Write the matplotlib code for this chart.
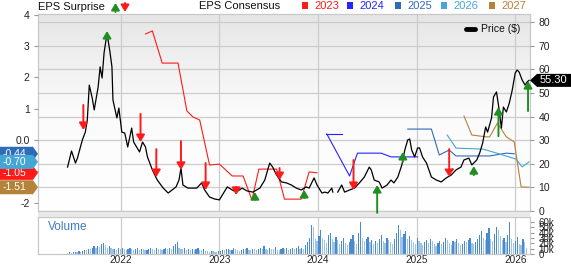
import numpy as np
import matplotlib
matplotlib.use("Agg")
import matplotlib.pyplot as plt
from matplotlib.patches import Polygon, Rectangle, FancyArrowPatch, ArrowStyle
from matplotlib.colors import LinearSegmentedColormap

plt.rcParams['font.family'] = ['Liberation Sans', 'DejaVu Sans']

# ---------------- data ----------------
price_t = [2021.46, 2021.50, 2021.54, 2021.56, 2021.61, 2021.64, 2021.66, 2021.68, 2021.71, 2021.73,
           2021.77, 2021.79, 2021.81, 2021.83, 2021.86, 2021.89, 2021.91, 2021.92, 2021.96, 2021.98,
           2022.01, 2022.04, 2022.07, 2022.11, 2022.13, 2022.19, 2022.22, 2022.25, 2022.27, 2022.32,
           2022.37, 2022.43, 2022.48, 2022.52, 2022.56, 2022.59, 2022.61, 2022.63, 2022.68, 2022.72,
           2022.77, 2022.82, 2022.85, 2022.90, 2022.95, 2023.00, 2023.03, 2023.08, 2023.13, 2023.17,
           2023.23, 2023.28, 2023.34, 2023.41, 2023.46, 2023.51, 2023.54, 2023.58, 2023.63, 2023.68,
           2023.73, 2023.78, 2023.83, 2023.88, 2023.91, 2023.96, 2023.99, 2024.04, 2024.07, 2024.10,
           2024.14, 2024.15, 2024.17, 2024.20, 2024.24, 2024.27, 2024.32, 2024.37, 2024.42, 2024.47,
           2024.52, 2024.54, 2024.57, 2024.62, 2024.65, 2024.70, 2024.74, 2024.77, 2024.81, 2024.85,
           2024.88, 2024.91, 2024.93, 2024.95, 2024.98, 2025.01, 2025.03, 2025.06, 2025.10, 2025.15,
           2025.20, 2025.25, 2025.30, 2025.35, 2025.40, 2025.45, 2025.48, 2025.53, 2025.56, 2025.61,
           2025.64, 2025.67, 2025.70, 2025.72, 2025.76, 2025.78, 2025.81, 2025.83, 2025.86, 2025.88,
           2025.91, 2025.94, 2025.97, 2026.00, 2026.02, 2026.04, 2026.07, 2026.10, 2026.12, 2026.14]
price_v = [18.6, 25.4, 20.3, 22.4, 30.1, 33.4, 38.5, 53.3, 47.8, 42.8,
           52.5, 61.0, 56.3, 66.9, 75.3, 67.3, 61.0, 47.0, 39.4, 43.6,
           33.4, 33.0, 27.1, 35.1, 29.2, 25.0, 29.2, 27.1, 22.9, 17.4,
           13.1, 9.7, 7.6, 8.9, 10.2, 13.1, 18.2, 11.0, 9.7, 9.7,
           9.7, 11.9, 8.9, 5.9, 5.1, 4.7, 6.8, 10.2, 8.9, 8.0,
           9.7, 8.5, 8.0, 9.7, 13.1, 20.3, 18.6, 15.2, 12.3, 11.9,
           11.0, 9.7, 8.9, 10.2, 9.7, 14.0, 11.0, 7.6, 8.0, 7.6,
           9.7, 8.0, np.nan, 8.0, 11.0, 8.0, 8.9, 9.7, 11.9, 14.4,
           18.6, 17.4, 13.1, 12.3, 9.7, 11.0, 13.1, 11.9, 14.4, 19.5,
           25.8, 30.1, 30.5, 25.8, 22.9, 26.7, 26.7, 22.9, 20.3, 14.4,
           13.1, 12.3, 14.0, 15.2, 17.4, 18.6, 21.6, 22.4, 19.5, 21.6,
           24.6, 28.8, 35.6, 33.4, 39.4, 48.3, 50.4, 44.9, 35.1, 44.0,
           41.9, 45.7, 51.2, 58.4, 59.7, 58.8, 55.5, 53.3, 54.6, 55.3]
last_price = 55.30

# EPS surprise arrows: date, tail (price), tip (price), kind
surp_t    = [2021.62, 2021.86, 2022.20, 2022.36, 2022.61, 2022.86, 2023.17, 2023.36, 2023.61,
             2023.86, 2024.36, 2024.60, 2024.86, 2025.33, 2025.58, 2025.83, 2026.13]
surp_tail = [44.9, 72.5, 41.1, 26.2, 29.6, 20.3, 10.2, 4.7, 18.2,
             5.5, 21.6, -0.8, 20.7, 26.2, 15.2, 31.7, 42.3]
surp_tip  = [34.3, 76.2, 29.2, 14.4, 17.4, 8.9, 6.8, 8.0, 13.1,
             8.9, 8.9, 11.0, 25.0, 14.4, 19.0, 44.0, 55.0]
surp_kind = ['miss', 'beat', 'miss', 'miss', 'miss', 'miss', 'miss', 'beat', 'miss',
             'beat', 'miss', 'beat', 'beat', 'mixed', 'beat', 'beat', 'beat']

# EPS consensus lines (EPS axis)
c2023_t = [2022.25, 2022.32, 2022.42, 2022.58, 2022.67, 2022.73, 2022.80, 2022.90, 2023.00, 2023.13,
           2023.24, 2023.33, 2023.40, 2023.58, 2023.66, 2023.83, 2023.91, 2023.99]
c2023_v = [3.39, 3.49, 2.46, 2.46, 0.93, 0.74, 0.64, -0.80, -0.77, -1.15,
           -1.15, -1.92, -0.93, -0.93, -1.89, -1.89, -1.02, -1.05]
c2024a_t = [2024.08, 2024.24]
c2024a_v = [0.19, 0.19]
c2024_t = [2024.09, 2024.32, 2024.40, 2024.64, 2024.74, 2025.01]
c2024_v = [0.19, -1.15, -0.42, -0.42, -0.54, -0.54]
c2025_t = [2024.91, 2025.15, 2025.23, 2025.33, 2025.40, 2025.74, 2025.91, 2025.99]
c2025_v = [0.35, 0.35, -0.48, -0.32, -0.51, -0.51, -0.42, -0.44]
c2026_t = [2025.31, 2025.40, 2025.67, 2025.74, 2026.01, 2026.07, 2026.14]
c2026_v = [0.16, -0.26, -0.29, -0.35, -0.61, -0.86, -0.70]
c2027_t = [2025.48, 2025.56, 2025.71, 2025.74, 2025.82, 2025.91, 2025.99, 2026.06, 2026.14]
c2027_v = [0.77, 0.16, 0.10, 0.10, 0.54, 0.10, -0.06, -1.50, -1.51]

years = ['2023', '2024', '2025', '2026', '2027']
year_colors = ['#ff1a1a', '#2424ff', '#2f6cb8', '#45a5d5', '#b5823a']
badge_vals = [-0.44, -1.05, -1.51, -0.70]
badge_cols = ['#2f6cb8', '#ff1a1a', '#b5823a', '#45a5d5']

# weekly volume (thousands)
vol_start = 2021.46
volume = [2, 3, 2, 3, 4, 3, 5, 4, 6, 8, 7, 10, 9, 12, 14, 11, 15, 13, 18, 20,
          16, 12, 14, 11, 9, 10, 8, 12, 9, 11, 10, 8, 9, 12, 10, 7, 9, 11, 8, 10,
          9, 7, 8, 10, 12, 9, 8, 11, 10, 9, 8, 10, 12, 9, 11, 10, 14, 18, 23, 12,
          10, 9, 11, 8, 9, 7, 10, 8, 9, 12, 8, 7, 9, 6, 5, 4, 6, 5, 4, 3,
          5, 6, 8, 7, 9, 10, 7, 8, 11, 9, 7, 6, 8, 10, 9, 12, 8, 7, 10, 9,
          8, 9, 12, 10, 14, 9, 8, 11, 10, 9, 13, 8, 7, 10, 12, 9, 11, 8, 10, 12,
          9, 11, 14, 10, 12, 9, 16, 22, 30, 55, 50, 28, 24, 33, 45, 30, 26, 20, 35, 40,
          28, 22, 32, 26, 18, 24, 30, 20, 16, 22, 28, 35, 25, 18, 40, 60, 30, 24, 28, 32,
          22, 26, 18, 24, 20, 28, 35, 24, 20, 30, 26, 22, 18, 28, 40, 55, 45, 32, 38, 42,
          28, 34, 26, 22, 18, 30, 24, 20, 16, 22, 26, 20, 28, 24, 18, 14, 20, 24, 18, 22,
          30, 26, 20, 16, 24, 22, 28, 20, 16, 18, 24, 22, 26, 30, 20, 18, 22, 28, 36, 42,
          30, 26, 40, 48, 28, 24, 38, 50, 44, 34, 26, 30, 22, 36, 60, 28, 20, 24, 32, 18,
          16, 28, 22, 12]

year_ticks = [2022, 2023, 2024, 2025, 2026]
price_ticks = [0, 10, 20, 30, 40, 50, 60, 70, 80]
eps_ticks = [4, 3, 2, 1, 0, -1, -2]
eps_labels = ['4', '3', '2', '1', '0.0', '-1', '-2']
vol_ticks = [0, 10, 20, 30, 40, 50, 60]

# ---------------- layout ----------------
W, H = 571, 264
fig = plt.figure(figsize=(W / 100, H / 100), dpi=100)
XL = (2021.16, 2026.15)
PL = (0, 83.4)
EL = (-2.27, 4.03)
pos = [38 / W, 1 - 211 / H, 492 / W, 197 / H]
GRID = '#cccccc'
ARW = ArrowStyle('-|>', head_length=0.75, head_width=0.45)

ax_bg = fig.add_axes(pos, zorder=0)
grad = np.linspace(0, 1, 256).reshape(-1, 1)
cmap = LinearSegmentedColormap.from_list('g', ['#ffffff', '#fbfbfb', '#e6e6e6'])
ax_bg.imshow(grad, extent=[XL[0], XL[1], PL[0], PL[1]], origin='lower', aspect='auto', cmap=cmap, zorder=0)
ax_bg.set_xlim(XL); ax_bg.set_ylim(PL)
for p in price_ticks:
    ax_bg.axhline(p, color=GRID, lw=0.9, zorder=1)
for yv in year_ticks:
    ax_bg.axvline(yv, color=GRID, lw=0.9, zorder=1)
ax_bg.set_xticks([]); ax_bg.set_yticks([])
for s in ax_bg.spines.values():
    s.set_color('#c8c8c8'); s.set_linewidth(0.9)

ax_e = fig.add_axes(pos, zorder=1)
ax_e.patch.set_visible(False)
ax_e.set_xlim(XL); ax_e.set_ylim(EL)
for s in ax_e.spines.values():
    s.set_visible(False)
ax_e.set_xticks([])
ax_e.set_yticks(eps_ticks)
ax_e.set_yticklabels(eps_labels)
ax_e.tick_params(axis='y', length=3, width=0.8, color='#999999', labelsize=7.5, pad=3, labelcolor='#222222')

series = [(c2023_t, c2023_v, 0), (c2024a_t, c2024a_v, 1), (c2024_t, c2024_v, 1),
          (c2025_t, c2025_v, 2), (c2026_t, c2026_v, 3), (c2027_t, c2027_v, 4)]
for t, v, ci in series:
    ax_e.plot(t, v, color=year_colors[ci], lw=0.8, zorder=2)

# badges on left
ytr = ax_e.get_yaxis_transform()
bx0, bx1, bxp = -38 / 492, -5 / 492, 0 / 492
hh = 7 / 31.25
for val, col in zip(badge_vals, badge_cols):
    poly = Polygon([[bx0, val - hh], [bx1, val - hh], [bxp, val], [bx1, val + hh], [bx0, val + hh]],
                   closed=True, facecolor=col, edgecolor='none', transform=ytr, clip_on=False, zorder=5)
    ax_e.add_patch(poly)
    ax_e.text(-35 / 492, val, f'{val:.2f}', transform=ytr, color='white', fontsize=7.5,
              va='center', ha='left', clip_on=False, zorder=5)

ax_p = fig.add_axes(pos, zorder=2)
ax_p.patch.set_visible(False)
ax_p.set_xlim(XL); ax_p.set_ylim(PL)
for s in ax_p.spines.values():
    s.set_visible(False)
ax_p.set_xticks([])
ax_p.yaxis.tick_right()
ax_p.set_yticks(price_ticks)
ax_p.tick_params(axis='y', length=3, width=0.8, color='#999999', labelsize=7.5, pad=3, labelcolor='#222222')
ax_p.plot(price_t, price_v, color='black', lw=0.9, zorder=3)

for t, a, b, k in zip(surp_t, surp_tail, surp_tip, surp_kind):
    col = '#1f8f1f' if k == 'beat' else '#ff1a1a'
    ls = (0, (1.2, 0.8)) if k == 'mixed' else '-'
    arr = FancyArrowPatch((t, a), (t, b), arrowstyle=ARW,
                          mutation_scale=5.5, color=col, lw=1.4, linestyle=ls, shrinkA=0, shrinkB=0,
                          zorder=4, clip_on=False)
    ax_p.add_patch(arr)

# price label
xtr = ax_p.get_yaxis_transform()
ph = 6.5 / 2.3625
lab = Polygon([[1.0, last_price], [1 + 7 / 492, last_price + ph], [1 + 41 / 492, last_price + ph],
               [1 + 41 / 492, last_price - ph], [1 + 7 / 492, last_price - ph]], closed=True,
              facecolor='black', edgecolor='none', transform=xtr, clip_on=False, zorder=6)
ax_p.add_patch(lab)
ax_p.text(1 + 23 / 492, last_price, f'{last_price:.2f}', transform=xtr, color='white', fontsize=8,
          ha='center', va='center', zorder=7, clip_on=False)

# price legend
ax_p.plot([0.870, 0.888], [0.922, 0.922], transform=ax_p.transAxes, color='black', lw=3.5,
          solid_capstyle='round', zorder=5)
ax_p.text(0.900, 0.922, 'Price ($)', transform=ax_p.transAxes, fontsize=7.5, va='center', ha='left', color='#111111')

# separator band
fig.add_artist(Rectangle((38 / W, 1 - 217 / H), 492 / W, 5 / H, transform=fig.transFigure,
                         facecolor='#e8e8e8', edgecolor='none'))

# volume
ax_v = fig.add_axes([38 / W, 1 - 254 / H, 492 / W, 37 / H])
ax_v.set_xlim(XL); ax_v.set_ylim(0, 69)
vx = vol_start + np.arange(len(volume)) * 7 / 365.25
vcols = ['#4a8bd0' if (i > 0 and volume[i] > volume[i - 1]) else '#9dc3e6' for i in range(len(volume))]
ax_v.bar(vx, volume, width=4.5 / 365.25, color=vcols, linewidth=0, zorder=2)
for yv in year_ticks:
    ax_v.axvline(yv, color=GRID, lw=0.9, zorder=1)
for s in ax_v.spines.values():
    s.set_color('#c8c8c8'); s.set_linewidth(0.9)
ax_v.yaxis.tick_right()
ax_v.set_yticks(vol_ticks)
ax_v.set_yticklabels([('0' if v == 0 else f'{v}k') for v in vol_ticks])
ax_v.tick_params(axis='y', length=3, width=0.8, color='#999999', labelsize=7, pad=3, labelcolor='#222222')
ax_v.set_xticks(year_ticks)
ax_v.set_xticklabels([str(y) for y in year_ticks])
ax_v.tick_params(axis='x', length=0, labelsize=7.2, pad=0.5, labelcolor='#222222')
ax_v.text(10 / 492, 0.72, 'Volume', transform=ax_v.transAxes, color='#3a7cc4', fontsize=8.5, va='center')

# header
fig.text(38 / W, 1 - 7 / H, 'EPS Surprise', fontsize=8, va='center', ha='left', color='#111111')
fig.add_artist(FancyArrowPatch((115.5 / W, 1 - 12 / H), (115.5 / W, 1 - 3 / H), transform=fig.transFigure,
                               arrowstyle=ARW, mutation_scale=5.5, color='#1f8f1f', lw=1.4,
                               shrinkA=0, shrinkB=0))
fig.add_artist(FancyArrowPatch((125 / W, 1 - 3 / H), (125 / W, 1 - 12 / H), transform=fig.transFigure,
                               arrowstyle=ARW, mutation_scale=5.5, color='#ff1a1a', lw=1.4,
                               shrinkA=0, shrinkB=0))
fig.text(199 / W, 1 - 6 / H, 'EPS Consensus', fontsize=8, va='center', ha='left', color='#111111')
sq_x = [302, 347, 395, 441, 489]
for x0, yr, col in zip(sq_x, years, year_colors):
    fig.add_artist(Rectangle((x0 / W, 1 - 9 / H), 6 / W, 7 / H, transform=fig.transFigure,
                             facecolor=col, edgecolor='none'))
    fig.text((x0 + 12) / W, 1 - 6 / H, yr, fontsize=8, va='center', ha='left', color=col)

fig.savefig('out.png', dpi=100)
